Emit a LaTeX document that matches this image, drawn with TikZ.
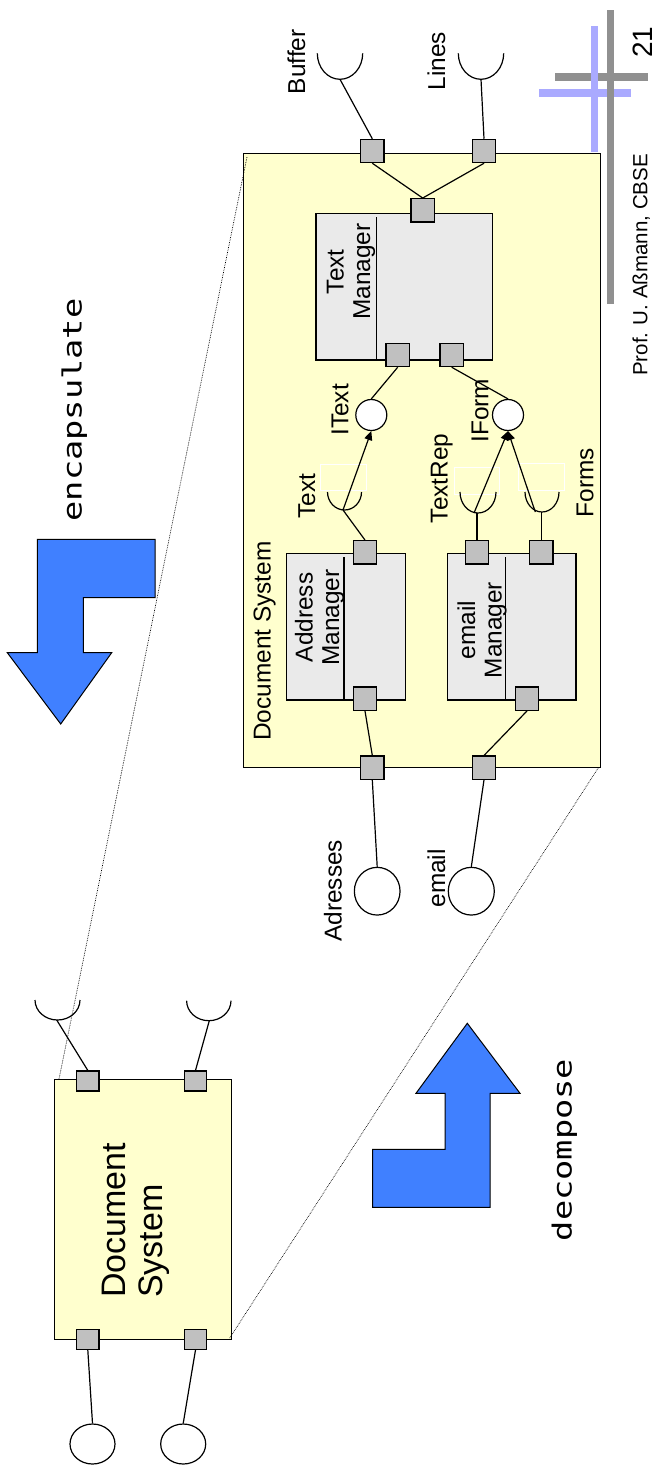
\documentclass[tikz,border=0pt]{standalone}
\usepackage{fontspec}
\setmainfont{Liberation Sans}
\newfontfamily\codefont{DejaVu Sans Mono}
\usetikzlibrary{arrows.meta,shapes.geometric}
\definecolor{sysyellow}{RGB}{255,255,206}
\definecolor{compgray}{RGB}{234,234,234}
\definecolor{portgray}{RGB}{192,192,192}
\definecolor{arrowblue}{RGB}{64,128,255}
\definecolor{bargray}{RGB}{144,144,144}
\definecolor{barblue}{RGB}{170,170,255}
\begin{document}
\begin{tikzpicture}[x=1pt,y=-1pt,
  sysbox/.style={draw=black,fill=sysyellow,line width=1.4pt,rectangle,inner sep=0pt,anchor=north west},
  compbox/.style={draw=black,fill=compgray,line width=1.4pt,rectangle,inner sep=0pt,anchor=north west},
  sepline/.style={draw=black,line width=1.2pt},
  portbox/.style={draw=black,fill=portgray,line width=1.2pt,rectangle,inner sep=0pt,minimum size=23.3pt},
  smallport/.style={portbox,minimum width=22.3pt,minimum height=20pt},
  iface/.style={draw=black,fill=white,line width=1.2pt,circle,inner sep=0pt,minimum size=31pt},
  bigiface/.style={draw=black,fill=white,line width=1.2pt,ellipse,inner sep=0pt},
  wire/.style={draw=black,line width=1.2pt},
  sockarc/.style={draw=black,line width=1.2pt},
  usearrow/.style={wire,-{Triangle[length=9pt,width=8pt]}},
  labelbox/.style={draw=white,line width=0.9pt},
  dotline/.style={draw=black,densely dotted,line width=0.7pt},
  bluearrow/.style={draw=black,fill=arrowblue,line width=1pt,line join=miter},
  lbl/.style={rotate=90,anchor=base,inner sep=0pt,font=\fontsize{24.4}{26.5}\selectfont},
  mlbl/.style={rotate=90,anchor=center,inner sep=0pt,align=center,font=\fontsize{24.4}{26.5}\selectfont},
  codelbl/.style={rotate=90,xscale=1.28,anchor=base,inner sep=0pt,font=\codefont\fontsize{26.3}{28}\selectfont}
]
\useasboundingbox (0,0) rectangle (656,1474);

% slide decoration
\fill[bargray] (555,73.3) rectangle (648.3,80.7);
\fill[barblue] (590.7,26) rectangle (597.7,151.7);
\fill[barblue] (539,89.3) rectangle (631,97.3);
\fill[bargray] (606.7,10) rectangle (614,304);
\node[rotate=90,anchor=base,inner sep=0pt,font=\fontsize{28}{30}\selectfont] (pagenum) at (652,42) {21};
\node[rotate=90,anchor=base,inner sep=0pt,font=\fontsize{20.5}{22}\selectfont] (author) at (647.3,265) {Prof. U. Aßmann, CBSE};

% blue arrows
\draw[bluearrow] (37.3,539.3) -- (155,539.3) -- (155,597.7) -- (83.3,597.7) -- (83.3,652.7) -- (111.7,652.7) -- (60.7,724) -- (7.3,652.7) -- (37.3,652.7) -- cycle;
\draw[bluearrow] (467.3,1023.3) -- (520,1093.3) -- (490,1093.3) -- (490,1207.3) -- (372.7,1207.3) -- (372.7,1149.3) -- (445,1149.3) -- (445,1093.3) -- (416,1093.3) -- cycle;
\node[codelbl] (encap) at (81.7,410) {encapsulate};
\node[codelbl] (decomp) at (571.7,1150) {decompose};

% ===== inner (decomposed) document system =====
\node[sysbox,minimum width=357pt,minimum height=614pt] (ds) at (243,153) {};
\node[lbl] (dslabel) at (270.7,641) {Document System};

% components
\node[compbox,minimum width=176.7pt,minimum height=146.6pt] (tm) at (315.3,212.7) {};
\draw[sepline] ([xshift=61.4]tm.south west) -- ([shift={(61.4,4)}]tm.north west);
\node[mlbl] (tmlabel) at (351,271.7) {Text\\Manager};

\node[compbox,minimum width=118.7pt,minimum height=146.6pt] (am) at (286,552.7) {};
\draw[sepline] ([xshift=58]am.south west) -- ([shift={(58,4)}]am.north west);
\node[mlbl] (amlabel) at (319.5,617.5) {Address\\Manager};

\node[compbox,minimum width=128.6pt,minimum height=146.6pt] (em) at (446.7,552.7) {};
\draw[sepline] ([xshift=59]em.south west) -- ([shift={(59,4)}]em.north west);
\node[mlbl] (emlabel) at (482,630) {email\\Manager};

% empty label boxes
\draw[labelbox] (320.7,464) rectangle (366.7,490.7);
\draw[labelbox] (454,467.3) rectangle (499.3,494);
\draw[labelbox] (518.7,463.3) rectangle (564.3,490);

% sockets (required interfaces)
\coordinate (sBuf) at (340,79.3);
\coordinate (sLin) at (481,79.3);
\coordinate (sText) at (343,510);
\coordinate (sTextRep) at (477,513);
\coordinate (sForms) at (541.3,512);
\draw[sockarc] (sBuf) ++(-22.7,-26) arc[start angle=180,end angle=0,x radius=22.7,y radius=26];
\draw[sockarc] (sLin) ++(-22.7,-26) arc[start angle=180,end angle=0,x radius=22.7,y radius=26];
\draw[sockarc] ([xshift=1.5]sText) ++(-17,-18) arc[start angle=180,end angle=0,x radius=17,y radius=18];
\draw[sockarc] ([xshift=1]sTextRep) ++(-18,-21) arc[start angle=180,end angle=0,x radius=18,y radius=21];
\draw[sockarc] ([xshift=0.7]sForms) ++(-17,-20) arc[start angle=180,end angle=0,x radius=17,y radius=20];

% ports
\node[portbox] (bufP) at (372.3,151) {};
\node[portbox] (linP) at (484,151) {};
\node[portbox] (tmT) at (422.7,210.3) {};
\node[portbox] (tmB1) at (397.7,355) {};
\node[portbox] (tmB2) at (451.7,355) {};
\node[portbox] (amT) at (365,552.3) {};
\node[portbox] (amB) at (365,698.7) {};
\node[portbox] (emT1) at (477,552.3) {};
\node[portbox] (emT2) at (541.3,552.3) {};
\node[portbox] (emB) at (527,698.7) {};
\node[portbox] (dsA) at (372.3,767.7) {};
\node[portbox] (dsE) at (484,767.7) {};

% provided interfaces
\node[iface] (itext) at (371.3,415) {};
\node[iface] (iform) at (508,415) {};
\node[bigiface,minimum width=45.7pt,minimum height=47.7pt] (adr) at (377.2,891.2) {};
\node[bigiface,minimum width=46pt,minimum height=47.7pt] (emc) at (471.3,891.2) {};

% wires
\draw[wire] (bufP.north) -- (sBuf);
\draw[wire] (linP.north) -- (sLin);
\draw[wire] (tmT.north) -- (bufP.south);
\draw[wire] (tmT.north) -- (linP.south);
\draw[wire] (tmB1.south) -- (itext.north);
\draw[wire] (tmB2.south) -- (iform.north);
\draw[wire] (amT.north) -- (sText);
\draw[wire] (emT1.north) -- (sTextRep);
\draw[wire] (emT2.north) -- (sForms);
\draw[usearrow] (sText) -- (itext.south);
\draw[usearrow] ([xshift=-3]sTextRep) -- (iform.south);
\draw[usearrow] ([xshift=-6]sForms) -- (iform.south);
\draw[wire] (amB.south) -- (dsA.north);
\draw[wire] (emB.south) -- (dsE.north);
\draw[wire] (dsA.south) -- (adr.north);
\draw[wire] (dsE.south) -- (emc.north);

% labels
\node[lbl] (lbuf) at (305,61.7) {Buffer};
\node[lbl] (llin) at (445,61.3) {Lines};
\node[lbl] (ltext) at (315,496) {Text};
\node[lbl] (litext) at (348.3,410) {IText};
\node[lbl] (ltextrep) at (447.5,478.3) {TextRep};
\node[lbl] (liform) at (488.3,410.8) {IForm};
\node[lbl] (lforms) at (593.3,482.5) {Forms};
\node[lbl] (ladr) at (341.7,890.8) {Adresses};
\node[lbl] (lemail) at (445,878.3) {email};

% ===== outer (encapsulated) document system =====
\node[sysbox,minimum width=176.7pt,minimum height=260pt] (outer) at (54,1079) {};
\node[rotate=90,anchor=center,inner sep=0pt,align=left,font=\fontsize{34}{37}\selectfont] (outerlabel) at (135.5,1220.5) {Document\\System};

\coordinate (oS1) at (56.7,1020);
\coordinate (oS2) at (209.3,1020.7);
\draw[sockarc] ([xshift=0.8]oS1) ++(-22.5,-20) arc[start angle=180,end angle=0,x radius=22.5,y radius=20];
\draw[sockarc] ([xshift=-0.5]oS2) ++(-22.2,-20) arc[start angle=180,end angle=0,x radius=22.2,y radius=20];

\node[smallport] (oP1) at (87.8,1081) {};
\node[smallport] (oP2) at (195.5,1081) {};
\node[smallport] (oP3) at (87.8,1339.3) {};
\node[smallport] (oP4) at (195.5,1339.3) {};
\node[bigiface,minimum width=45pt,minimum height=40pt] (oC1) at (92.5,1444) {};
\node[bigiface,minimum width=45pt,minimum height=40pt] (oC2) at (183.2,1444) {};

\draw[wire] (oP1.north) -- (oS1);
\draw[wire] (oP2.north) -- (oS2);
\draw[wire] (oP3.south) -- (oC1.north);
\draw[wire] (oP4.south) -- (oC2.north);

% zoom lines
\draw[dotline] ([xshift=5]outer.north west) -- ([shift={(4,4)}]ds.north west);
\draw[dotline] ([shift={(-2.4,-2.3)}]outer.south east) -- ([shift={(-3.3,-0.3)}]ds.south east);
\end{tikzpicture}
\end{document}
